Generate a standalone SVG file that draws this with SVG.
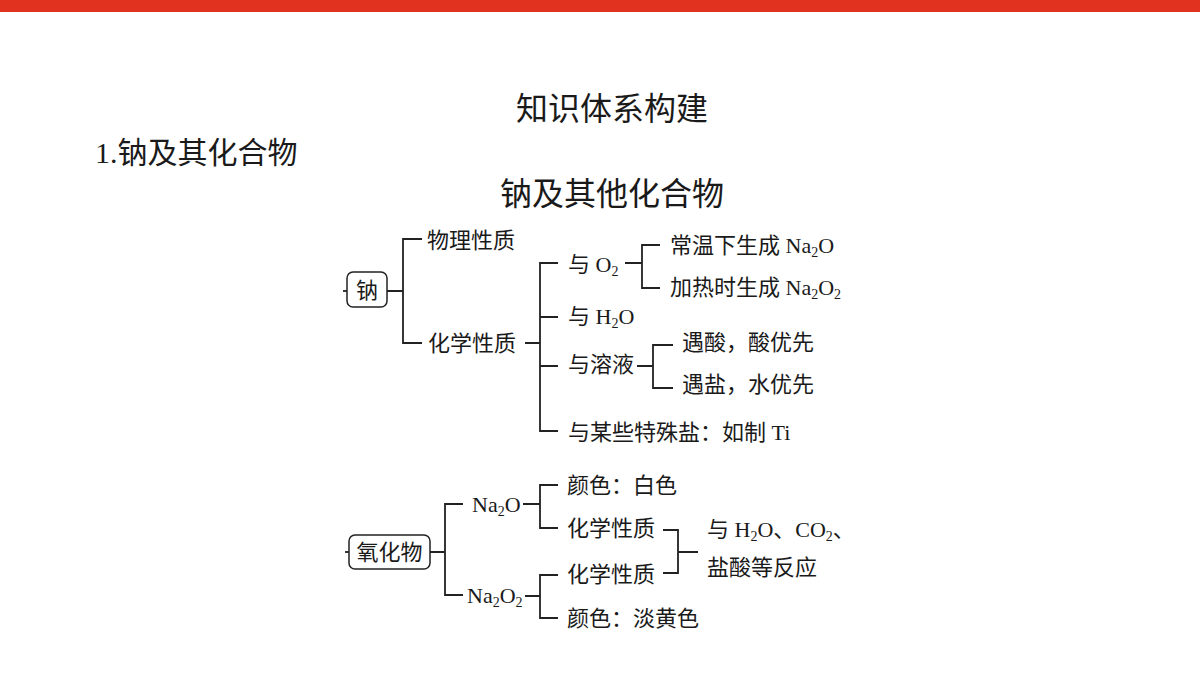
<svg xmlns="http://www.w3.org/2000/svg" width="1200" height="675" viewBox="0 0 1200 675">
<style>
text{font-family:"Liberation Serif","Noto Sans CJK SC",serif;fill:#1a1a1a;font-size:22px}
.h{font-size:32px}
.s{font-size:14px}
.c line,.c path{stroke:#222;stroke-width:1.8;fill:none}
.box{fill:#fff;stroke:#222;stroke-width:1.5}
</style>
<rect x="0" y="0" width="1200" height="12" fill="#e0321e"/>
<text class="h" x="612" y="120" text-anchor="middle">知识体系构建</text>
<text x="95" y="163" style="font-size:30px">1.钠及其化合物</text>
<text class="h" x="612" y="205" text-anchor="middle">钠及其他化合物</text>
<g class="c" id="connectors">
<line x1="343" y1="291" x2="347" y2="291"/>
<path d="M387 291H403M422 239H403V343H422"/>
<path d="M525 343H540M558 263H540V431H558M540 317H558M540 366H558"/>
<path d="M625 263H642M660 245H642V288H660"/>
<path d="M637 366H653M673 345H653V388H673"/>
<line x1="345" y1="552" x2="349" y2="552"/>
<path d="M430 552H445M463 504H445V595H463"/>
<path d="M523 504H540M558 485H540V528H558"/>
<path d="M525 596H540M558 575H540V618H558"/>
<path d="M663 530H678V573H663M678 552H698"/>
</g>
<g id="na"><rect class="box" x="347" y="272" width="40" height="35" rx="6"/><text x="367" y="298" text-anchor="middle">钠</text></g>
<g id="wuli"><text x="427" y="248">物理性质</text></g>
<g id="huaxue"><text x="428" y="351">化学性质</text></g>
<g id="o2"><text x="568" y="272">与 O<tspan class="s" dy="4">2</tspan></text></g>
<g id="h2o"><text x="568" y="324">与 H<tspan class="s" dy="4">2</tspan><tspan dy="-4">O</tspan></text></g>
<g id="rongye"><text x="568" y="372">与溶液</text></g>
<g id="teshu"><text x="568" y="440">与某些特殊盐：如制 Ti</text></g>
<g id="changwen"><text x="670" y="253">常温下生成 Na<tspan class="s" dy="4">2</tspan><tspan dy="-4">O</tspan></text></g>
<g id="jiare"><text x="670" y="295">加热时生成 Na<tspan class="s" dy="4">2</tspan><tspan dy="-4">O</tspan><tspan class="s" dy="4">2</tspan></text></g>
<g id="yusuan"><text x="682" y="350">遇酸，酸优先</text></g>
<g id="yuyan"><text x="682" y="392">遇盐，水优先</text></g>
<g id="yhw"><rect class="box" x="349" y="535" width="81" height="34" rx="6"/><text x="389.5" y="560" text-anchor="middle">氧化物</text></g>
<g id="na2o"><text x="472" y="512">Na<tspan class="s" dy="4">2</tspan><tspan dy="-4">O</tspan></text></g>
<g id="na2o2"><text x="467" y="603">Na<tspan class="s" dy="4">2</tspan><tspan dy="-4">O</tspan><tspan class="s" dy="4">2</tspan></text></g>
<g id="bai"><text x="567" y="493">颜色：白色</text></g>
<g id="hx1"><text x="567" y="536">化学性质</text></g>
<g id="hx2"><text x="567" y="582">化学性质</text></g>
<g id="dh"><text x="567" y="626">颜色：淡黄色</text></g>
<g id="fy"><text x="707" y="537">与 H<tspan class="s" dy="4">2</tspan><tspan dy="-4">O、CO</tspan><tspan class="s" dy="4">2</tspan><tspan dy="-4">、</tspan></text><text x="707" y="575">盐酸等反应</text></g>
</svg>
